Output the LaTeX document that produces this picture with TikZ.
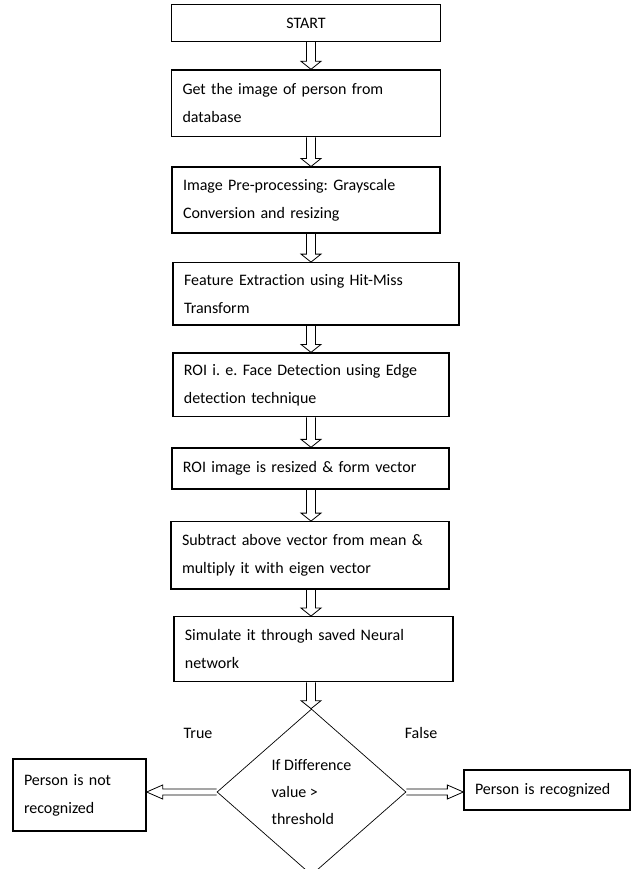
\documentclass[tikz,border=0pt]{standalone}
\usepackage{fontspec}
\setmainfont{Carlito}[Ligatures=NoCommon]
\usetikzlibrary{shapes.geometric,calc}

\tikzset{
    procbox/.style={draw, line width=1.3pt, inner xsep=11pt, inner ysep=0pt, align=left,
        font=\fontsize{16}{28}\selectfont\frenchspacing},
    decision/.style={draw, diamond, line width=0.7pt, inner sep=0pt, minimum width=189pt,
        minimum height=166pt, align=left, font=\fontsize{16}{27}\selectfont},
    branchlabel/.style={font=\fontsize{16}{28}\selectfont},
    hollowline/.style={line width=0.8pt, line join=miter}
}

% hollow block arrow: start, end, shaft half width, head half width, head length
\newcommand{\hollowarrow}[5]{%
    \coordinate (hb) at ($(#2)!#5!(#1)$);
    \draw[hollowline] ($(#1)!#3!90:(#2)$) -- ($(hb)!#3!90:(#2)$) -- ($(hb)!#4!90:(#2)$)
        -- (#2) -- ($(hb)!#4!-90:(#2)$) -- ($(hb)!#3!-90:(#2)$) -- ($(#1)!#3!-90:(#2)$);
}

\begin{document}
\begin{tikzpicture}[x=1pt, y=-1pt]
\useasboundingbox (0,0) rectangle (636,869);

% ============================================
% 1. STEPS
% ============================================
\node[procbox, text width=247pt, minimum height=37pt, align=center] (start) at (306,23) {START};
\node[procbox, text width=247pt, minimum height=66.7pt] (getimg) at (306,103.3)
    {Get the image of person from\\database};
\node[procbox, text width=246pt, minimum height=65.7pt] (preproc) at (306,200)
    {Image Pre-processing: Grayscale\\Conversion and resizing};
\node[procbox, text width=264pt, minimum height=62.3pt] (feature) at (316,293.9)
    {Feature Extraction using Hit-Miss\\Transform};
\node[procbox, text width=254pt, minimum height=63.7pt] (roi) at (310.9,384.9)
    {ROI i. e. Face Detection using Edge\\detection technique};
\node[procbox, text width=255pt, minimum height=41pt] (resize) at (310.4,468.5)
    {ROI image is resized \& form vector};
\node[procbox, text width=256pt, minimum height=67.3pt] (subtract) at (310,555.4)
    {Subtract above vector from mean \&\\multiply it with eigen vector};
\node[procbox, text width=257pt, minimum height=65pt] (simulate) at (313.4,649.2)
    {Simulate it through saved Neural\\network};

% ============================================
% 2. DECISION
% ============================================
\node[decision] (judge) at (311.5,792) {If Difference\\value >\\threshold};
\node[procbox, text width=111pt, minimum height=72pt] (notrec) at (79.5,795)
    {Person is not\\recognized};
\node[procbox, text width=144pt, minimum height=40pt] (rec) at (547,790)
    {Person is recognized};
\node[branchlabel] (truelbl) at (198,733) {True};
\node[branchlabel] (falselbl) at (421,733) {False};

% ============================================
% 3. ARROWS
% ============================================
\coordinate (spine) at (311,0);
\foreach \a/\b in {start/getimg, getimg/preproc, preproc/feature, feature/roi,
                   roi/resize, resize/subtract, subtract/simulate, simulate/judge} {
    \path (\a.south -| spine) coordinate (p) (\b.north -| spine) coordinate (q);
    \hollowarrow{p}{q}{4.5pt}{10pt}{8pt}
}
\path (judge.west -| notrec.east) coordinate (lq) (judge.east -| rec.west) coordinate (rq);
\hollowarrow{judge.west}{lq}{3pt}{7pt}{16pt}
\hollowarrow{judge.east}{rq}{3pt}{7pt}{16pt}

\end{tikzpicture}
\end{document}
